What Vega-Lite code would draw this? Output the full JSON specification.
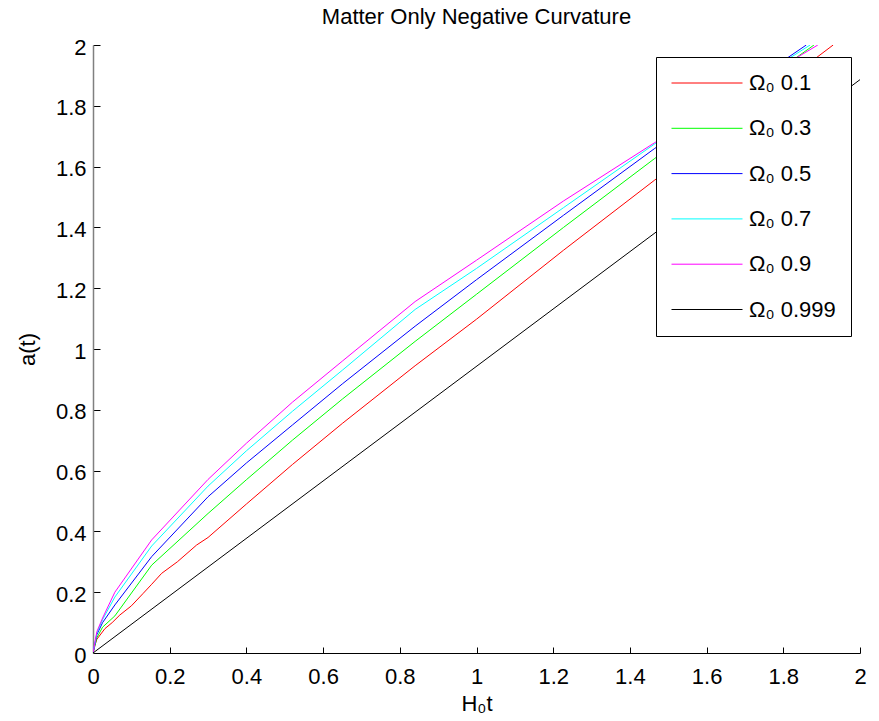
{
  "$schema": "https://vega.github.io/schema/vega-lite/v6.json",
  "width": 767,
  "height": 608,
  "autosize": "none",
  "padding": {"left": 93, "top": 45, "right": 19, "bottom": 68},
  "background": "white",
  "title": {
    "text": "Matter Only Negative Curvature",
    "font": "Liberation Sans",
    "fontSize": 22,
    "fontWeight": "normal",
    "color": "black",
    "anchor": "middle",
    "offset": 7
  },
  "config": {
    "view": {"stroke": null},
    "axis": {
      "labelFont": "Liberation Sans",
      "labelFontSize": 22,
      "labelColor": "black",
      "titleFont": "Liberation Sans",
      "titleFontSize": 22,
      "titleFontWeight": "normal",
      "titleColor": "black",
      "tickColor": "black",
      "tickWidth": 1,
      "grid": false
    },
    "legend": {
      "labelFont": "Liberation Sans",
      "labelFontSize": 22,
      "labelColor": "black"
    }
  },
  "data": {
    "values": [
      {"t": 0, "a": 0, "omega": "0.1"},
      {"t": 0.005, "a": 0.025, "omega": "0.1"},
      {"t": 0.01, "a": 0.045, "omega": "0.1"},
      {"t": 0.031, "a": 0.08, "omega": "0.1"},
      {"t": 0.05, "a": 0.1, "omega": "0.1"},
      {"t": 0.07, "a": 0.125, "omega": "0.1"},
      {"t": 0.1, "a": 0.155, "omega": "0.1"},
      {"t": 0.13, "a": 0.195, "omega": "0.1"},
      {"t": 0.153, "a": 0.226, "omega": "0.1"},
      {"t": 0.179, "a": 0.262, "omega": "0.1"},
      {"t": 0.22, "a": 0.3, "omega": "0.1"},
      {"t": 0.27, "a": 0.355, "omega": "0.1"},
      {"t": 0.3, "a": 0.38, "omega": "0.1"},
      {"t": 0.4, "a": 0.49, "omega": "0.1"},
      {"t": 0.52, "a": 0.62, "omega": "0.1"},
      {"t": 0.65, "a": 0.755, "omega": "0.1"},
      {"t": 0.84, "a": 0.945, "omega": "0.1"},
      {"t": 1.0, "a": 1.098, "omega": "0.1"},
      {"t": 1.227, "a": 1.325, "omega": "0.1"},
      {"t": 1.465, "a": 1.556, "omega": "0.1"},
      {"t": 1.93, "a": 2.0, "omega": "0.1"},
      {"t": 0, "a": 0, "omega": "0.3"},
      {"t": 0.01, "a": 0.05, "omega": "0.3"},
      {"t": 0.025, "a": 0.085, "omega": "0.3"},
      {"t": 0.057, "a": 0.122, "omega": "0.3"},
      {"t": 0.153, "a": 0.289, "omega": "0.3"},
      {"t": 0.3, "a": 0.459, "omega": "0.3"},
      {"t": 0.4, "a": 0.57, "omega": "0.3"},
      {"t": 0.52, "a": 0.7, "omega": "0.3"},
      {"t": 0.65, "a": 0.835, "omega": "0.3"},
      {"t": 0.84, "a": 1.025, "omega": "0.3"},
      {"t": 1.0, "a": 1.18, "omega": "0.3"},
      {"t": 1.227, "a": 1.4, "omega": "0.3"},
      {"t": 1.465, "a": 1.627, "omega": "0.3"},
      {"t": 1.88, "a": 2.0, "omega": "0.3"},
      {"t": 0, "a": 0, "omega": "0.5"},
      {"t": 0.01, "a": 0.06, "omega": "0.5"},
      {"t": 0.025, "a": 0.1, "omega": "0.5"},
      {"t": 0.057, "a": 0.158, "omega": "0.5"},
      {"t": 0.153, "a": 0.317, "omega": "0.5"},
      {"t": 0.3, "a": 0.514, "omega": "0.5"},
      {"t": 0.4, "a": 0.625, "omega": "0.5"},
      {"t": 0.52, "a": 0.75, "omega": "0.5"},
      {"t": 0.65, "a": 0.885, "omega": "0.5"},
      {"t": 0.84, "a": 1.075, "omega": "0.5"},
      {"t": 1.0, "a": 1.228, "omega": "0.5"},
      {"t": 1.227, "a": 1.44, "omega": "0.5"},
      {"t": 1.465, "a": 1.66, "omega": "0.5"},
      {"t": 1.86, "a": 2.0, "omega": "0.5"},
      {"t": 0, "a": 0, "omega": "0.7"},
      {"t": 0.01, "a": 0.065, "omega": "0.7"},
      {"t": 0.025, "a": 0.11, "omega": "0.7"},
      {"t": 0.057, "a": 0.184, "omega": "0.7"},
      {"t": 0.153, "a": 0.352, "omega": "0.7"},
      {"t": 0.3, "a": 0.549, "omega": "0.7"},
      {"t": 0.4, "a": 0.665, "omega": "0.7"},
      {"t": 0.52, "a": 0.795, "omega": "0.7"},
      {"t": 0.65, "a": 0.93, "omega": "0.7"},
      {"t": 0.84, "a": 1.13, "omega": "0.7"},
      {"t": 1.0, "a": 1.265, "omega": "0.7"},
      {"t": 1.227, "a": 1.465, "omega": "0.7"},
      {"t": 1.465, "a": 1.675, "omega": "0.7"},
      {"t": 1.87, "a": 2.0, "omega": "0.7"},
      {"t": 0, "a": 0, "omega": "0.9"},
      {"t": 0.01, "a": 0.07, "omega": "0.9"},
      {"t": 0.025, "a": 0.115, "omega": "0.9"},
      {"t": 0.057, "a": 0.2, "omega": "0.9"},
      {"t": 0.153, "a": 0.372, "omega": "0.9"},
      {"t": 0.3, "a": 0.571, "omega": "0.9"},
      {"t": 0.4, "a": 0.69, "omega": "0.9"},
      {"t": 0.52, "a": 0.825, "omega": "0.9"},
      {"t": 0.65, "a": 0.96, "omega": "0.9"},
      {"t": 0.84, "a": 1.156, "omega": "0.9"},
      {"t": 1.0, "a": 1.292, "omega": "0.9"},
      {"t": 1.227, "a": 1.487, "omega": "0.9"},
      {"t": 1.465, "a": 1.679, "omega": "0.9"},
      {"t": 1.89, "a": 2.0, "omega": "0.9"},
      {"t": 0, "a": 0, "omega": "0.999"},
      {"t": 2.0, "a": 1.886, "omega": "0.999"}
    ]
  },
  "mark": {"type": "line", "strokeWidth": 1, "clip": true},
  "encoding": {
    "x": {
      "field": "t",
      "type": "quantitative",
      "scale": {"domain": [0, 2], "nice": false, "zero": false},
      "axis": {
        "title": "H₀t",
        "values": [0, 0.2, 0.4, 0.6, 0.8, 1, 1.2, 1.4, 1.6, 1.8, 2],
        "format": "~g",
        "domainColor": "black",
        "domainWidth": 1,
        "tickSize": -6,
        "labelPadding": 19,
        "labelFlush": false,
        "titlePadding": 6
      }
    },
    "y": {
      "field": "a",
      "type": "quantitative",
      "scale": {"domain": [0, 2], "nice": false, "zero": false},
      "axis": {
        "title": "a(t)",
        "values": [0, 0.2, 0.4, 0.6, 0.8, 1, 1.2, 1.4, 1.6, 1.8, 2],
        "format": "~g",
        "domainColor": "#808080",
        "domainWidth": 1.5,
        "tickSize": -7,
        "labelPadding": 14,
        "labelFlush": false,
        "labelOffset": 2,
        "titlePadding": 16
      }
    },
    "color": {
      "field": "omega",
      "type": "nominal",
      "scale": {
        "domain": ["0.1", "0.3", "0.5", "0.7", "0.9", "0.999"],
        "range": ["#ff0000", "#00ff00", "#0000ff", "#00ffff", "#ff00ff", "#000000"]
      },
      "legend": {
        "title": null,
        "orient": "none",
        "legendX": 563,
        "legendY": 12,
        "fillColor": "white",
        "strokeColor": "black",
        "padding": 15,
        "symbolType": "stroke",
        "symbolSize": 5041,
        "symbolStrokeWidth": 1,
        "clipHeight": 22,
        "labelOffset": 6,
        "rowPadding": 23.3,
        "labelExpr": "'Ω₀ ' + datum.label + '\u00a0\u00a0'"
      }
    }
  }
}
